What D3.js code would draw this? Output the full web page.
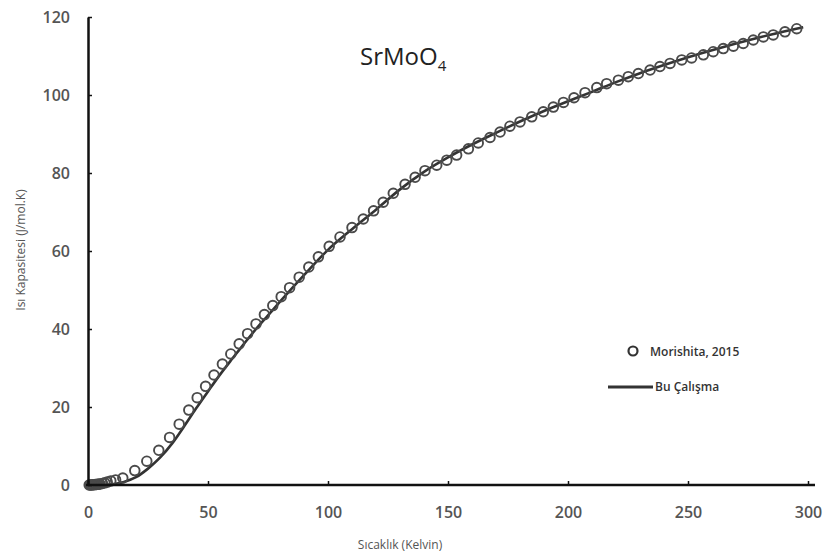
<!DOCTYPE html>
<meta charset="utf-8">
<style>
    body { margin: 0; background: #fff; }
    .tick text { font-family: "Open Sans", sans-serif; font-weight: 600; fill: #555; }
    .axis-title { font-family: "Open Sans", sans-serif; font-size: 12px; fill: #555; }
    .legend text { font-family: "Open Sans", sans-serif; font-size: 12px; fill: #333; font-weight: 600; }
</style>
<body>
<script src="https://cdn.jsdelivr.net/npm/d3@7/dist/d3.min.js"></script>
<script>

    var width = 828;
    var height = 556;

    // Morishita, 2015 (measured points)
    var tempMorishita = [0.5, 1, 1.5, 2, 2.5, 3, 3.5, 4, 4.5, 5, 6, 7, 8, 9.5, 11.5,
        14.5, 19.5, 24.5, 29.5, 34, 38, 42, 45.5, 49, 52.5, 56, 59.5, 63, 66.5, 70,
        73.5, 77, 80.5, 84, 88, 92, 96, 100.5, 105, 110, 114.7, 119, 123, 127.2,
        132.1, 136.3, 140.4, 145.3, 149.5, 153.6, 158.5, 162.6, 167.5, 171.7, 175.8,
        180, 184.9, 189.7, 193.9, 198.1, 202.5, 207.1, 212, 216.1, 221, 225.1, 229.3,
        234.2, 238.3, 242.5, 247.4, 251.5, 256.4, 260.5, 264.7, 268.9, 273, 277.2,
        281.4, 285.5, 290.4, 295.3];
    var cpMorishita = [0.01, 0.02, 0.03, 0.05, 0.07, 0.1, 0.13, 0.17, 0.22, 0.27, 0.4, 0.55, 0.75, 1.05, 1.3,
        1.8, 3.7, 6.1, 8.9, 12.2, 15.6, 19.2, 22.4, 25.3, 28.2, 31.0, 33.6, 36.2, 38.8, 41.3,
        43.7, 46.0, 48.3, 50.6, 53.3, 55.9, 58.5, 61.2, 63.6, 66.0, 68.2, 70.3, 72.5, 74.8,
        77.1, 78.9, 80.6, 82.0, 83.3, 84.6, 86.2, 87.7, 89.1, 90.5, 92.0,
        93.1, 94.4, 95.7, 96.9, 98.1, 99.3, 100.6, 101.9, 102.9, 103.8, 104.7, 105.5,
        106.4, 107.3, 108.1, 109.0, 109.5, 110.3, 111.1, 111.9, 112.5, 113.2, 114.1,
        114.9, 115.4, 116.2, 117.0];

    // Bu Çalışma (model curve)
    var tempModel = [0, 5, 10, 15, 20, 25, 30, 35, 40, 45, 50, 55, 60, 65, 70, 75, 80, 90,
        100, 110, 120, 130, 140, 150, 160, 170, 180, 190, 200, 210, 220, 230, 240, 250,
        260, 270, 280, 290, 298];
    var cpModel = [0, 0.02, 0.2, 0.8, 2.0, 4.2, 7.0, 10.6, 15.0, 19.6, 24.0, 28.3, 32.3, 36.2,
        40.0, 43.5, 47.0, 53.8, 60.3, 65.6, 70.6, 75.8, 80.3, 84.0, 87.3, 90.3, 93.2, 95.9,
        98.4, 100.8, 103.3, 105.6, 107.7, 109.7, 111.5, 113.2, 114.8, 116.3, 117.4];

    var xTicks = [0, 50, 100, 150, 200, 250, 300];
    var yTicks = [0, 20, 40, 60, 80, 100, 120];

    var svg = d3.select("body").append("svg")
        .attr("width", width)
        .attr("height", height);

    var x = d3.scaleLinear().domain([0, 300]).range([88, 808]);
    var y = d3.scaleLinear().domain([0, 120]).range([485, 17]);

    // model line
    var line = d3.line()
        .x(function (d, i) { return x(tempModel[i]); })
        .y(function (d, i) { return y(cpModel[i]); })
        .curve(d3.curveMonotoneX);

    svg.append("path")
        .datum(cpModel)
        .attr("d", line)
        .attr("fill", "none")
        .attr("stroke", "#333")
        .attr("stroke-width", 2.6);

    // measured points
    svg.selectAll("circle.pt")
        .data(cpMorishita)
        .enter()
        .append("circle")
        .attr("class", "pt")
        .attr("cx", function (d, i) { return x(tempMorishita[i]); })
        .attr("cy", function (d) { return y(d); })
        .attr("r", 4.8)
        .attr("fill", "none")
        .attr("stroke", "#4a4a4a")
        .attr("stroke-width", 1.9);

    // axes
    var xAxis = svg.append("g")
        .attr("transform", "translate(0," + y(0) + ")")
        .call(d3.axisBottom(x).tickValues(xTicks).tickSize(-4).tickSizeOuter(0).tickPadding(22));
    xAxis.select(".domain").attr("d", "M86,0H815").attr("stroke", "#111").attr("stroke-width", 2.5);

    var yAxis = svg.append("g")
        .attr("transform", "translate(" + x(0) + ",0)")
        .call(d3.axisLeft(y).tickValues(yTicks).tickSize(-4).tickSizeOuter(0).tickPadding(18));
    yAxis.select(".domain").attr("stroke", "#111").attr("stroke-width", 2.5);

    svg.selectAll(".tick line").attr("stroke", "#111").attr("stroke-width", 1.5);
    svg.selectAll(".tick text").style("font-size", "16px");

    // axis titles
    svg.append("text")
        .attr("class", "axis-title")
        .attr("x", 400)
        .attr("y", 549)
        .attr("text-anchor", "middle")
        .text("Sıcaklık (Kelvin)");

    svg.append("text")
        .attr("class", "axis-title")
        .attr("transform", "translate(25,250) rotate(-90)")
        .attr("text-anchor", "middle")
        .text("Isı Kapasitesi (J/mol.K)");

    // chart title
    var title = svg.append("text")
        .attr("x", 360)
        .attr("y", 65)
        .style("font-family", "'Open Sans', sans-serif")
        .style("font-size", "24px")
        .style("fill", "#222");
    title.append("tspan").text("SrMoO");
    title.append("tspan").attr("dy", 6).style("font-size", "15px").text("4");

    // legend
    var legend = svg.append("g").attr("class", "legend");
    legend.append("circle")
        .attr("cx", 633).attr("cy", 351).attr("r", 4.5)
        .attr("fill", "none").attr("stroke", "#333").attr("stroke-width", 2.2);
    legend.append("text").attr("x", 650).attr("y", 356).text("Morishita, 2015");
    legend.append("line")
        .attr("x1", 608).attr("x2", 653).attr("y1", 387).attr("y2", 387)
        .attr("stroke", "#333").attr("stroke-width", 3);
    legend.append("text").attr("x", 655).attr("y", 391).text("Bu Çalışma");

</script>
</body>
</html>
